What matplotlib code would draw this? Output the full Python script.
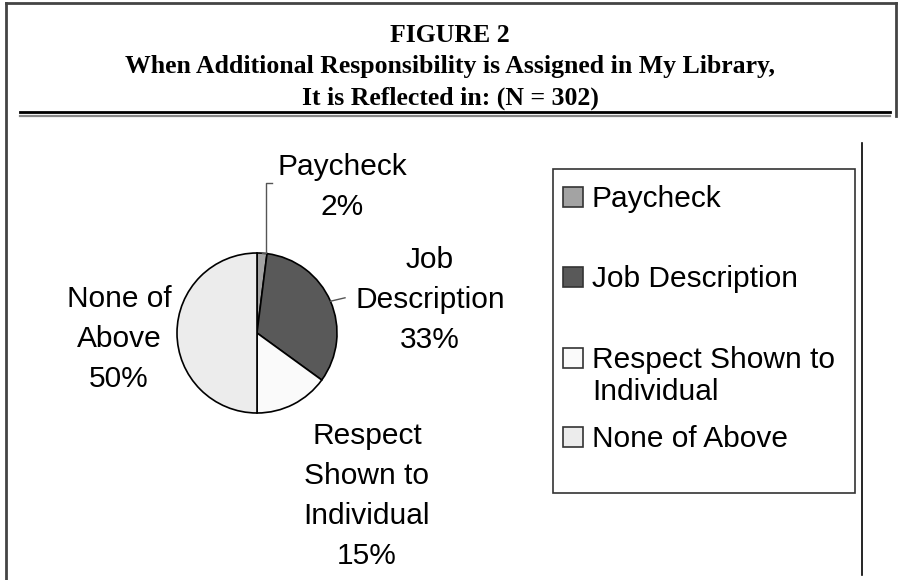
import numpy as np
import matplotlib
matplotlib.use('Agg')
import matplotlib.pyplot as plt
from matplotlib.patches import Rectangle
from matplotlib.lines import Line2D

# data
names = ['Paycheck', 'Job Description', 'Respect Shown to Individual', 'None of Above']
pie_names = ['Paycheck', 'Job\nDescription', 'Respect\nShown to\nIndividual', 'None of\nAbove']
legend_names = ['Paycheck', 'Job Description', 'Respect Shown to\nIndividual', 'None of Above']
pct = [2, 33, 15, 50]
colors = ['#a3a3a3', '#595959', '#fafafa', '#ececec']

title_lines = ['FIGURE 2',
               'When Additional Responsibility is Assigned in My Library,',
               'It is Reflected in: (N = 302)']

W, H = 900, 580
fig = plt.figure(figsize=(9, 5.8), dpi=100)


def px(x, y):
    return x / W, 1 - y / H


def fline(xs, ys, **kw):
    fx = [x / W for x in xs]
    fy = [1 - y / H for y in ys]
    fig.add_artist(Line2D(fx, fy, transform=fig.transFigure, **kw))


# frame lines
fline([6, 6], [3, 580], color='#444444', lw=2)
fline([6, 896], [3, 3], color='#444444', lw=2)
fline([896, 896], [3, 116], color='#444444', lw=2)
fline([20, 890], [112, 112], color='black', lw=2)
fline([20, 890], [115.5, 115.5], color='#888888', lw=1.6)
fline([862, 862], [143, 575], color='black', lw=1.2)

# title
for line, yb in zip(title_lines, [42, 73.5, 104.5]):
    fig.text(*px(450, yb), line, ha='center', va='baseline',
             family='Liberation Serif', weight='bold', fontsize=18.5)

# pie, centre (257, 333), radius 80 px
ax = fig.add_axes([177 / W, 1 - 413 / H, 160 / W, 160 / H])
ax.pie(pct, colors=colors, startangle=90, counterclock=False,
       wedgeprops=dict(edgecolor='black', linewidth=1.2))
ax.set_xlim(-1, 1)
ax.set_ylim(-1, 1)
ax.axis('off')

lab_font = dict(family='Liberation Sans', fontsize=21.5, linespacing=1.55)

# label positions: centre x and baseline of last line (px)
lab_pos = [(342, 215), (430, 348), (367, 564), (119, 387)]
for name, p, (x, y) in zip(pie_names, pct, lab_pos):
    fig.text(*px(x, y), f'{name}\n{p}%', ha='center', va='baseline',
             multialignment='center', **lab_font)

# leader lines from wedge middles
cum = np.cumsum(pct) - np.array(pct) / 2
ang = np.deg2rad(90 - 360 * cum / np.sum(pct))
x0, y0 = np.cos(ang[0]), np.sin(ang[0])
ax.plot([x0, x0 + 0.05, x0 + 0.05, x0 + 0.12],
        [y0, y0, 1.87, 1.87], color='#555555', lw=1, clip_on=False)
x1, y1 = np.cos(ang[1]), np.sin(ang[1])
ax.plot([x1, 1.1], [y1, 0.44], color='#555555', lw=1, clip_on=False)

# legend drawn by hand
fig.add_artist(Rectangle(px(553, 493), 302 / W, 324 / H, transform=fig.transFigure,
                         fill=False, edgecolor='#333333', lw=1.2))
for name, c, yc, yb in zip(legend_names, colors, [197, 277, 358, 437], [207, 287, 400, 447]):
    fig.add_artist(Rectangle(px(563, yc + 10), 20 / W, 20 / H, transform=fig.transFigure,
                             facecolor=c, edgecolor='#333333', lw=1.2))
    fig.text(*px(592, yb), name, ha='left', va='baseline',
             family='Liberation Sans', fontsize=21.5, linespacing=1.18)

fig.savefig('out.png', dpi=100)
